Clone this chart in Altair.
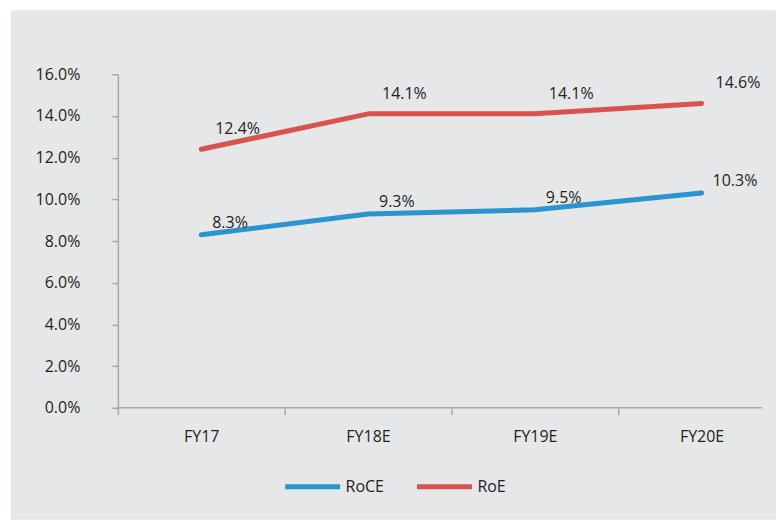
import altair as alt
import pandas as pd

years = ["FY17", "FY18E", "FY19E", "FY20E"]
roce = [8.3, 9.3, 9.5, 10.3]
roe = [12.4, 14.1, 14.1, 14.6]
series_names = ["RoCE", "RoE"]
colors = ["#2b93cf", "#d9524e"]
y_ticks = [0, 2, 4, 6, 8, 10, 12, 14, 16]

rows = []
for s, vals in zip(series_names, [roce, roe]):
    for yr, v in zip(years, vals):
        rows.append({"year": yr, "series": s, "value": v})
df = pd.DataFrame(rows)

FONT = "Open Sans"
TEXT = "#231f20"
AXIS = "#a7a9ac"
BG = "#e6e7e8"
W, H = 645, 334

x_enc = alt.X(
    "year:N", sort=years,
    scale=alt.Scale(type="band", range=[0, 668], paddingInner=0, paddingOuter=0),
    axis=alt.Axis(title=None, domain=False, tickBand="extent", tickColor=AXIS,
                  tickWidth=1.5, tickSize=7, labelAngle=0, labelFont=FONT,
                  labelFontSize=16, labelColor=TEXT, labelPadding=14, zindex=1),
)
y_enc = alt.Y(
    "value:Q",
    scale=alt.Scale(domain=[0, 16], nice=False),
    axis=alt.Axis(title=None, values=y_ticks, grid=False,
                  labelExpr="format(datum.value, '.1f') + '%'",
                  domainColor=AXIS, domainWidth=1.5, tickColor=AXIS, tickWidth=1.5,
                  tickSize=6, labelPadding=32, labelFont=FONT, labelFontSize=16,
                  labelColor=TEXT, zindex=1),
)

one = alt.Data(values=[{"k": 1}])

bg = alt.Chart(one).mark_rect(color=BG).encode(
    x=alt.value(-107), x2=alt.value(659), y=alt.value(-64), y2=alt.value(446)
)
xaxis_line = alt.Chart(one).mark_rule(color=AXIS, strokeWidth=1.5).encode(
    x=alt.value(0), x2=alt.value(W), y=alt.value(H)
)

lines = alt.Chart(df).mark_line(strokeWidth=5, strokeCap="round", strokeJoin="round").encode(
    x=x_enc, y=y_enc,
    color=alt.Color("series:N", sort=series_names,
                    scale=alt.Scale(domain=series_names, range=colors),
                    legend=alt.Legend(orient="none", legendX=165, legendY=383,
                                      direction="horizontal", title=None,
                                      symbolType="stroke", symbolSize=3025,
                                      symbolStrokeWidth=5, labelFont=FONT,
                                      labelFontSize=16, labelColor=TEXT,
                                      columnPadding=22, labelOffset=3)),
)

base_text = alt.Chart(df).transform_calculate(
    label="format(datum.value, '.1f') + '%'"
)
roe_text = base_text.transform_filter(alt.datum.series == "RoE").mark_text(
    align="left", baseline="middle", dx=14, dy=-20, font=FONT, fontSize=16, color=TEXT
).encode(x=x_enc, y=y_enc, text="label:N")
roce_text = base_text.transform_filter(alt.datum.series == "RoCE").mark_text(
    align="left", baseline="middle", dx=11, dy=-12, font=FONT, fontSize=16, color=TEXT
).encode(x=x_enc, y=y_enc, text="label:N")

chart = alt.layer(bg, xaxis_line, lines, roe_text, roce_text).properties(
    width=W, height=H,
    autosize=alt.AutoSizeParams(type="none"),
    padding={"left": 110, "top": 66, "right": 14, "bottom": 112},
    background="white",
).configure_view(stroke=None)

chart.save("out.html", embed_options={"renderer": "svg", "actions": False})
